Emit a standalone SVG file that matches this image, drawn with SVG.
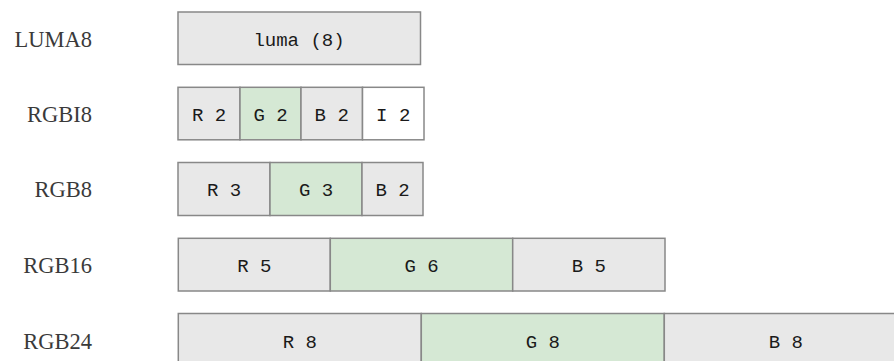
<svg xmlns="http://www.w3.org/2000/svg" width="894" height="361" viewBox="0 0 894 361">
<style>
  .lbl { font-family: "Liberation Serif", "Times New Roman", serif; font-size: 22.5px; fill: #3a3a3a; text-anchor: end; }
  .c { stroke: #888888; stroke-width: 1.5; }
  .g { fill: #e8e8e8; }
  .gr { fill: #d5e8d4; }
  .w { fill: #ffffff; }
  .t { font-family: "Liberation Mono", "Courier New", monospace; font-size: 19px; fill: #1a1a1a; text-anchor: middle; }
</style>
<rect width="894" height="361" fill="#ffffff"/>

<g id="luma8">
  <text class="lbl" x="92" y="46.7">LUMA8</text>
  <rect class="c g" x="178" y="12" width="242.5" height="52.5"/>
  <text class="t" x="299" y="45.5">luma (8)</text>
</g>

<g id="rgbi8">
  <text class="lbl" x="92" y="121.8">RGBI8</text>
  <rect class="c g" x="178" y="87.3" width="62" height="52.5"/>
  <rect class="c gr" x="240" y="87.3" width="61" height="52.5"/>
  <rect class="c g" x="301" y="87.3" width="61.5" height="52.5"/>
  <rect class="c w" x="362.5" y="87.3" width="61.5" height="52.5"/>
  <text class="t" x="209" y="120.7">R 2</text>
  <text class="t" x="270.5" y="120.7">G 2</text>
  <text class="t" x="331.7" y="120.7">B 2</text>
  <text class="t" x="393.2" y="120.7">I 2</text>
</g>

<g id="rgb8">
  <text class="lbl" x="92" y="197.2">RGB8</text>
  <rect class="c g" x="178" y="162.5" width="92" height="53"/>
  <rect class="c gr" x="270" y="162.5" width="92" height="53"/>
  <rect class="c g" x="362" y="162.5" width="61" height="53"/>
  <text class="t" x="224" y="196">R 3</text>
  <text class="t" x="316" y="196">G 3</text>
  <text class="t" x="392.5" y="196">B 2</text>
</g>

<g id="rgb16">
  <text class="lbl" x="92" y="272.7">RGB16</text>
  <rect class="c g" x="178.3" y="238.3" width="152" height="52.7"/>
  <rect class="c gr" x="330.3" y="238.3" width="182.4" height="52.7"/>
  <rect class="c g" x="512.7" y="238.3" width="152.3" height="52.7"/>
  <text class="t" x="254.3" y="271.5">R 5</text>
  <text class="t" x="421.5" y="271.5">G 6</text>
  <text class="t" x="588.8" y="271.5">B 5</text>
</g>

<g id="rgb24">
  <text class="lbl" x="92" y="349.3">RGB24</text>
  <rect class="c g" x="178.3" y="313.5" width="243" height="53"/>
  <rect class="c gr" x="421.3" y="313.5" width="243" height="53"/>
  <rect class="c g" x="664.3" y="313.5" width="243" height="53"/>
  <text class="t" x="299.8" y="347.5">R 8</text>
  <text class="t" x="542.8" y="347.5">G 8</text>
  <text class="t" x="785.8" y="347.5">B 8</text>
</g>
</svg>
